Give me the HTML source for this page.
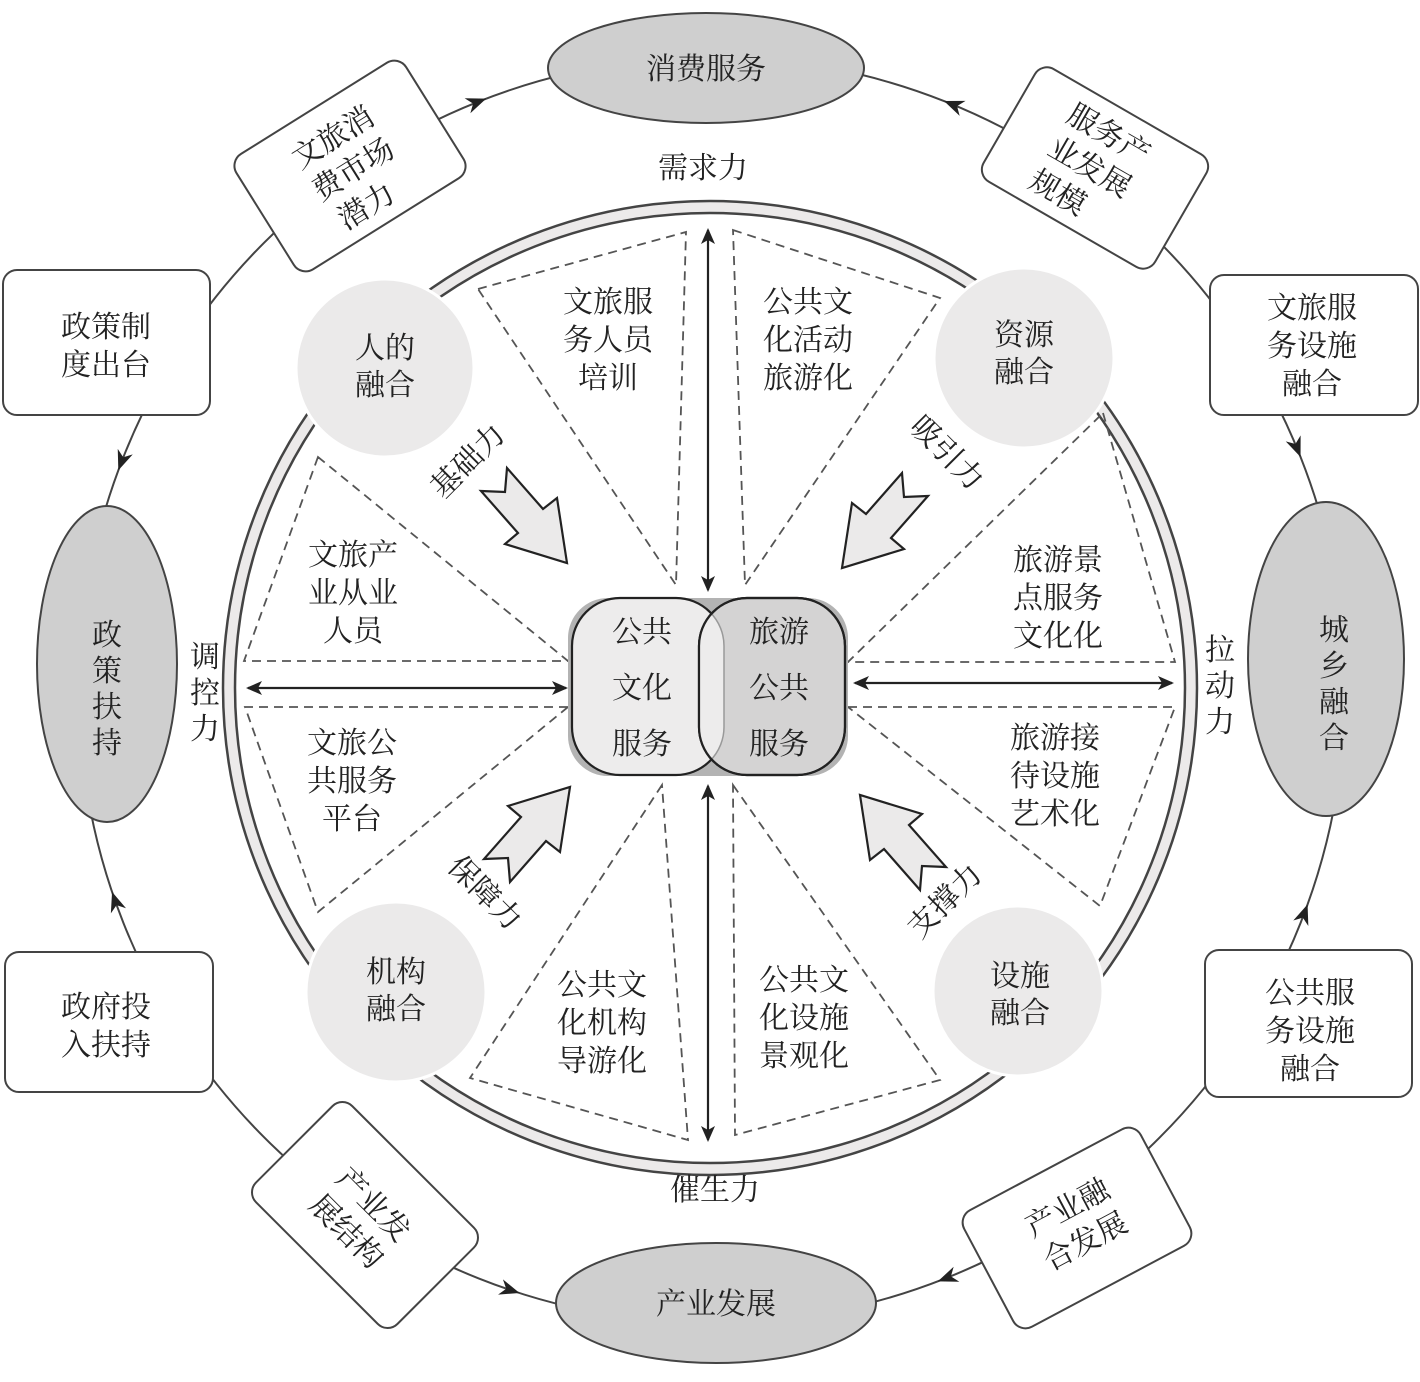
<!DOCTYPE html>
<html><head><meta charset="utf-8"><style>
html,body{margin:0;padding:0;background:#fff;}
svg text{font-family:"Liberation Serif","Noto Serif CJK SC","Noto Sans CJK SC",serif;fill:#222;font-size:30px;text-anchor:middle;}
</style></head><body>
<svg width="1420" height="1377" viewBox="0 0 1420 1377" xmlns="http://www.w3.org/2000/svg">
<defs>
<marker id="as" markerWidth="16" markerHeight="14" refX="14" refY="7" orient="auto-start-reverse" markerUnits="userSpaceOnUse"><path d="M0,0 L16,7 L0,14 L4,7 Z" fill="#222"/></marker>
<clipPath id="clipL"><rect x="572" y="598" width="152" height="177" rx="48"/></clipPath>
<clipPath id="clipR"><rect x="699" y="598" width="146" height="177" rx="48"/></clipPath>
</defs>
<!-- orbit -->
<circle cx="712" cy="690" r="633" fill="none" stroke="#444" stroke-width="2"/>
<!-- orbit arrowheads -->
<g fill="#222">
<path d="M-20,-8 L0,0 L-20,8 L-14,0Z" transform="rotate(-110.9 712 690) translate(1345,690) rotate(90)"/>
<path d="M-20,-8 L0,0 L-20,8 L-14,0Z" transform="rotate(-68.5 712 690) translate(1345,690) rotate(-90)"/>
<path d="M-20,-8 L0,0 L-20,8 L-14,0Z" transform="rotate(-159.7 712 690) translate(1345,690) rotate(-90)"/>
<path d="M-20,-8 L0,0 L-20,8 L-14,0Z" transform="rotate(-21.6 712 690) translate(1345,690) rotate(90)"/>
<path d="M-20,-8 L0,0 L-20,8 L-14,0Z" transform="rotate(161.4 712 690) translate(1345,690) rotate(90)"/>
<path d="M-20,-8 L0,0 L-20,8 L-14,0Z" transform="rotate(19.8 712 690) translate(1345,690) rotate(-90)"/>
<path d="M-20,-8 L0,0 L-20,8 L-14,0Z" transform="rotate(107.7 712 690) translate(1345,690) rotate(-90)"/>
<path d="M-20,-8 L0,0 L-20,8 L-14,0Z" transform="rotate(69.1 712 690) translate(1345,690) rotate(90)"/>
</g>
<!-- ring -->
<circle cx="710" cy="688" r="481" fill="none" stroke="#eceaea" stroke-width="12"/>
<circle cx="710" cy="688" r="487" fill="none" stroke="#444" stroke-width="2.5"/>
<circle cx="710" cy="688" r="475" fill="#fff" stroke="#444" stroke-width="2.5"/>
<!-- dashed triangles -->
<g fill="none" stroke="#555" stroke-width="1.8" stroke-dasharray="9,6">
<polygon points="478,289 686,232 676,585"/>
<polygon points="733,230 940,298 745,585"/>
<polygon points="1103,413 1175,662 848,662"/>
<polygon points="848,707 1175,707 1100,906"/>
<polygon points="733,785 940,1080 735,1135"/>
<polygon points="662,785 470,1078 688,1140"/>
<polygon points="568,707 245,707 318,912"/>
<polygon points="318,457 244,661 568,661"/>
</g>
<!-- fusion circles -->
<g fill="#ebeaea" stroke="#fff" stroke-width="3">
<circle cx="385" cy="368" r="89"/>
<circle cx="1024" cy="358" r="90"/>
<circle cx="396" cy="992" r="90"/>
<circle cx="1018" cy="991" r="85"/>
</g>
<text x="385" y="358">人的</text><text x="385" y="395">融合</text>
<text x="1024" y="345">资源</text><text x="1024" y="382">融合</text>
<text x="396" y="982">机构</text><text x="396" y="1019">融合</text>
<text x="1020" y="986">设施</text><text x="1020" y="1023">融合</text>
<!-- triangle texts -->
<text x="608" y="312">文旅服</text><text x="608" y="350">务人员</text><text x="608" y="388">培训</text>
<text x="808" y="312">公共文</text><text x="808" y="350">化活动</text><text x="808" y="388">旅游化</text>
<text x="1058" y="570">旅游景</text><text x="1058" y="608">点服务</text><text x="1058" y="646">文化化</text>
<text x="1055" y="748">旅游接</text><text x="1055" y="786">待设施</text><text x="1055" y="824">艺术化</text>
<text x="804" y="990">公共文</text><text x="804" y="1028">化设施</text><text x="804" y="1066">景观化</text>
<text x="602" y="995">公共文</text><text x="602" y="1033">化机构</text><text x="602" y="1071">导游化</text>
<text x="353" y="565">文旅产</text><text x="353" y="603">业从业</text><text x="353" y="641">人员</text>
<text x="352" y="753">文旅公</text><text x="352" y="791">共服务</text><text x="352" y="829">平台</text>
<!-- double arrows -->
<g stroke="#222" stroke-width="2.2">
<line x1="708" y1="230" x2="708" y2="590" marker-start="url(#as)" marker-end="url(#as)"/>
<line x1="708" y1="786" x2="708" y2="1140" marker-start="url(#as)" marker-end="url(#as)"/>
<line x1="248" y1="688" x2="566" y2="688" marker-start="url(#as)" marker-end="url(#as)"/>
<line x1="855" y1="683" x2="1172" y2="683" marker-start="url(#as)" marker-end="url(#as)"/>
</g>
<!-- center -->
<rect x="568" y="598" width="280" height="178" rx="40" fill="#b3b3b3"/>
<rect x="572" y="598" width="152" height="177" rx="48" fill="#edecec" stroke="#222" stroke-width="2.2"/>
<rect x="699" y="598" width="146" height="177" rx="48" fill="#d4d3d3" stroke="#222" stroke-width="2.2"/>
<rect x="699" y="598" width="146" height="177" rx="48" fill="#edecec" clip-path="url(#clipL)"/>
<rect x="572" y="598" width="152" height="177" rx="48" fill="none" stroke="#999" stroke-width="1.5" clip-path="url(#clipR)"/>
<rect x="699" y="598" width="146" height="177" rx="48" fill="none" stroke="#222" stroke-width="2.2"/>
<text x="642" y="642">公共</text><text x="642" y="698">文化</text><text x="642" y="754">服务</text>
<text x="779" y="642">旅游</text><text x="779" y="698">公共</text><text x="779" y="754">服务</text>
<!-- block arrows -->
<g fill="#ebeaea" stroke="#222" stroke-width="2.2" stroke-linejoin="miter">
<polygon points="567,563 557,498 543,509 507,468 505,492 481,491 518,533 505,544"/>
<polygon points="842,568 852,503 866,514 902,473 904,497 928,496 891,538 904,549"/>
<polygon points="570,787 560,852 546,841 510,882 508,858 484,859 521,817 508,806"/>
<polygon points="860,795 870,860 884,849 920,890 922,866 946,867 909,825 922,814"/>
</g>
<!-- force labels -->
<text x="703" y="178">需求力</text>
<text x="715" y="1200">催生力</text>
<text x="205" y="667">调</text><text x="205" y="703">控</text><text x="205" y="739">力</text>
<text x="1220" y="660">拉</text><text x="1220" y="696">动</text><text x="1220" y="732">力</text>
<text transform="translate(475,468) rotate(-45)">基础力</text>
<text transform="translate(940,460) rotate(45)">吸引力</text>
<text transform="translate(478,900) rotate(45)">保障力</text>
<text transform="translate(952,908) rotate(-45)">支撑力</text>
<!-- ellipses -->
<g fill="#cfcfcf" stroke="#444" stroke-width="2">
<ellipse cx="706" cy="68" rx="158" ry="55"/>
<ellipse cx="716" cy="1303" rx="160" ry="60"/>
<ellipse cx="107" cy="664" rx="70" ry="158"/>
<ellipse cx="1326" cy="659" rx="78" ry="157"/>
</g>
<text x="706" y="79">消费服务</text>
<text x="716" y="1314">产业发展</text>
<text x="107" y="645">政</text><text x="107" y="681">策</text><text x="107" y="717">扶</text><text x="107" y="753">持</text>
<text x="1334" y="640">城</text><text x="1334" y="676">乡</text><text x="1334" y="712">融</text><text x="1334" y="748">合</text>
<!-- boxes -->
<g fill="#fff" stroke="#444" stroke-width="2">
<rect x="3" y="270" width="207" height="145" rx="14"/>
<rect x="1210" y="275" width="208" height="140" rx="14"/>
<rect x="5" y="952" width="208" height="140" rx="14"/>
<rect x="1205" y="950" width="207" height="147" rx="14"/>
<rect x="-100" y="-68" width="200" height="136" rx="14" transform="translate(350,166) rotate(-32)"/>
<rect x="-99" y="-65" width="198" height="130" rx="14" transform="translate(1095,168) rotate(30)"/>
<rect x="-100" y="-68" width="200" height="136" rx="14" transform="translate(365,1215) rotate(45)"/>
<rect x="-100" y="-66" width="200" height="132" rx="14" transform="translate(1077,1228) rotate(-28)"/>
</g>
<text x="106" y="337">政策制</text><text x="106" y="375">度出台</text>
<text x="1312" y="318">文旅服</text><text x="1312" y="356">务设施</text><text x="1312" y="394">融合</text>
<text x="106" y="1017">政府投</text><text x="106" y="1055">入扶持</text>
<text x="1310" y="1003">公共服</text><text x="1310" y="1041">务设施</text><text x="1310" y="1079">融合</text>
<g transform="translate(352,168) rotate(-32)"><text x="0" y="-26">文旅消</text><text x="0" y="12">费市场</text><text x="-8" y="50">潜力</text></g>
<g transform="translate(1095,168) rotate(30)"><text x="-5" y="-26">服务产</text><text x="-5" y="12">业发展</text><text x="-20" y="50">规模</text></g>
<g transform="translate(362,1216) rotate(45)"><text x="0" y="-6">产业发</text><text x="0" y="32">展结构</text></g>
<g transform="translate(1075,1222) rotate(-28)"><text x="0" y="-6">产业融</text><text x="0" y="32">合发展</text></g>
</svg>
</body></html>
